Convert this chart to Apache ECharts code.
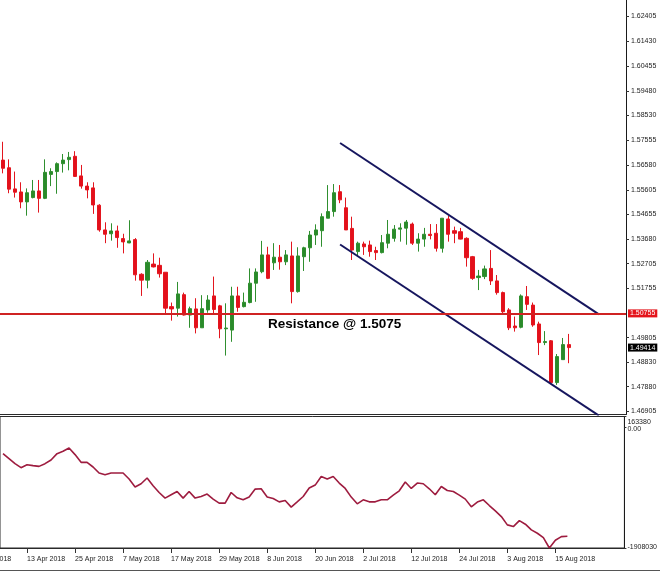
<!DOCTYPE html>
<html><head><meta charset="utf-8">
<script src="https://cdn.jsdelivr.net/npm/echarts@6/dist/echarts.min.js"></script>
<style>html,body{margin:0;padding:0;background:#fff;overflow:hidden}#c{width:660px;height:571px}</style>
</head><body><div id="c"></div>
<script>
// ---- categories (daily bars) ----
const dates = [
 '9 Apr 2018','10 Apr 2018','11 Apr 2018','12 Apr 2018','13 Apr 2018','16 Apr 2018','17 Apr 2018','18 Apr 2018','19 Apr 2018','20 Apr 2018',
 '23 Apr 2018','24 Apr 2018','25 Apr 2018','26 Apr 2018','27 Apr 2018','30 Apr 2018','1 May 2018','2 May 2018','3 May 2018','4 May 2018',
 '7 May 2018','8 May 2018','9 May 2018','10 May 2018','11 May 2018','14 May 2018','15 May 2018','16 May 2018','17 May 2018','18 May 2018',
 '21 May 2018','22 May 2018','23 May 2018','24 May 2018','25 May 2018','28 May 2018','29 May 2018','30 May 2018','31 May 2018','1 Jun 2018',
 '4 Jun 2018','5 Jun 2018','6 Jun 2018','7 Jun 2018','8 Jun 2018','11 Jun 2018','12 Jun 2018','13 Jun 2018','14 Jun 2018','15 Jun 2018',
 '18 Jun 2018','19 Jun 2018','20 Jun 2018','21 Jun 2018','22 Jun 2018','25 Jun 2018','26 Jun 2018','27 Jun 2018','28 Jun 2018','29 Jun 2018',
 '2 Jul 2018','3 Jul 2018','4 Jul 2018','5 Jul 2018','6 Jul 2018','9 Jul 2018','10 Jul 2018','11 Jul 2018','12 Jul 2018','13 Jul 2018',
 '16 Jul 2018','17 Jul 2018','18 Jul 2018','19 Jul 2018','20 Jul 2018','23 Jul 2018','24 Jul 2018','25 Jul 2018','26 Jul 2018','27 Jul 2018',
 '30 Jul 2018','31 Jul 2018','1 Aug 2018','2 Aug 2018','3 Aug 2018','6 Aug 2018','7 Aug 2018','8 Aug 2018','9 Aug 2018','10 Aug 2018',
 '13 Aug 2018','14 Aug 2018','15 Aug 2018','16 Aug 2018','17 Aug 2018'
];
// empty space to the right of the last bar (chart shift)
const futureDates = ['20 Aug 2018','21 Aug 2018','22 Aug 2018','23 Aug 2018','24 Aug 2018','27 Aug 2018','28 Aug 2018','29 Aug 2018','30 Aug 2018'];
const dateLabels = ['13 Apr 2018','25 Apr 2018','7 May 2018','17 May 2018','29 May 2018','8 Jun 2018','20 Jun 2018','2 Jul 2018','12 Jul 2018','24 Jul 2018','3 Aug 2018','15 Aug 2018'];
const offscreenLabel = '3 Apr 2018';

// ---- OHLC ----
const opens = [
 1.5677,1.5647,1.5564,1.5552,1.5513,1.5530,1.5556,1.5527,1.5621,1.5632,
 1.5663,1.5679,1.5692,1.5615,1.5575,1.5568,1.5500,1.5403,1.5388,1.5399,
 1.5369,1.5352,1.5365,1.5229,1.5206,1.5269,1.5264,1.5237,1.5102,1.5096,
 1.5149,1.5069,1.5093,1.5019,1.5089,1.5144,1.5105,1.5015,1.5010,1.5144,
 1.5102,1.5118,1.5194,1.5239,1.5305,1.5274,1.5296,1.5278,1.5301,1.5161,
 1.5298,1.5333,1.5383,1.5400,1.5449,1.5475,1.5553,1.5490,1.5409,1.5318,
 1.5348,1.5344,1.5322,1.5314,1.5351,1.5370,1.5406,1.5410,1.5426,1.5351,
 1.5367,1.5386,1.5390,1.5331,1.5446,1.5400,1.5396,1.5370,1.5298,1.5216,
 1.5220,1.5252,1.5203,1.5157,1.5089,1.5026,1.5021,1.5141,1.5108,1.5034,
 1.4961,1.4968,1.4804,1.4894,1.4953
];
const closes = [
 1.5645,1.5563,1.5551,1.5513,1.5549,1.5556,1.5527,1.5629,1.5632,1.5663,
 1.5677,1.5688,1.5613,1.5575,1.5560,1.5501,1.5403,1.5386,1.5399,1.5373,
 1.5356,1.5360,1.5227,1.5206,1.5276,1.5258,1.5231,1.5096,1.5093,1.5152,
 1.5069,1.5094,1.5019,1.5094,1.5128,1.5091,1.5015,1.5018,1.5144,1.5099,
 1.5119,1.5194,1.5238,1.5305,1.5213,1.5296,1.5278,1.5305,1.5161,1.5301,
 1.5333,1.5383,1.5403,1.5455,1.5475,1.5549,1.5521,1.5403,1.5324,1.5351,
 1.5337,1.5318,1.5314,1.5353,1.5386,1.5406,1.5411,1.5434,1.5351,1.5367,
 1.5386,1.5381,1.5331,1.5449,1.5386,1.5390,1.5367,1.5294,1.5213,1.5222,
 1.5250,1.5203,1.5157,1.5082,1.5019,1.5019,1.5144,1.5111,1.5030,1.4961,
 1.4965,1.4804,1.4906,1.4953,1.49414
];
const highs = [
 1.5749,1.5680,1.5632,1.5590,1.5566,1.5599,1.5599,1.5680,1.5645,1.5668,
 1.5701,1.5709,1.5712,1.5658,1.5590,1.5590,1.5504,1.5433,1.5429,1.5420,
 1.5388,1.5441,1.5371,1.5233,1.5285,1.5311,1.5294,1.5237,1.5118,1.5199,
 1.5157,1.5102,1.5135,1.5147,1.5147,1.5220,1.5109,1.5115,1.5180,1.5180,
 1.5157,1.5252,1.5252,1.5360,1.5337,1.5351,1.5344,1.5324,1.5357,1.5335,
 1.5337,1.5399,1.5425,1.5468,1.5579,1.5583,1.5579,1.5530,1.5455,1.5357,
 1.5357,1.5361,1.5337,1.5383,1.5442,1.5422,1.5429,1.5442,1.5432,1.5390,
 1.5411,1.5426,1.5426,1.5449,1.5458,1.5416,1.5411,1.5374,1.5301,1.5246,
 1.5263,1.5324,1.5226,1.5161,1.5096,1.5063,1.5150,1.5183,1.5118,1.5043,
 1.5006,1.4971,1.4916,1.4979,1.4995
];
const lows = [
 1.5625,1.5547,1.5530,1.5488,1.5459,1.5527,1.5471,1.5524,1.5575,1.5545,
 1.5628,1.5637,1.5611,1.5565,1.5527,1.5466,1.5396,1.5351,1.5361,1.5333,
 1.5311,1.5351,1.5204,1.5144,1.5174,1.5256,1.5216,1.5072,1.5047,1.5063,
 1.5067,1.5019,1.4997,1.5019,1.5078,1.5072,1.4978,1.4910,1.4964,1.5082,
 1.5099,1.5115,1.5121,1.5233,1.5210,1.5246,1.5247,1.5265,1.5115,1.5157,
 1.5242,1.5278,1.5344,1.5337,1.5449,1.5455,1.5508,1.5403,1.5285,1.5298,
 1.5305,1.5298,1.5285,1.5311,1.5331,1.5357,1.5357,1.5345,1.5344,1.5318,
 1.5337,1.5366,1.5318,1.5314,1.5357,1.5351,1.5366,1.5259,1.5207,1.5167,
 1.5210,1.5187,1.5149,1.5072,1.5010,1.5004,1.5017,1.5089,1.5023,1.4912,
 1.4951,1.4801,1.4795,1.4893,1.4880
];

// ---- lower indicator pane ----
const indicator = [
 -422000,-501000,-580000,-643000,-596000,-611000,-622000,-580000,-521000,-422000,
 -385000,-332000,-437000,-559000,-559000,-632000,-727000,-754000,-727000,-727000,
 -727000,-822000,-948000,-896000,-806000,-928000,-1034000,-1122000,-1070000,-1018000,
 -1122000,-1018000,-1122000,-1097000,-1059000,-1138000,-1201000,-1201000,-1034000,-1117000,
 -1149000,-1106000,-980000,-975000,-1106000,-1128000,-1181000,-1160000,-1264000,-1181000,
 -1097000,-964000,-917000,-781000,-822000,-781000,-885000,-970000,-1106000,-1212000,
 -1149000,-1181000,-1181000,-1149000,-1149000,-1075000,-1007000,-869000,-970000,-885000,
 -896000,-975000,-1070000,-939000,-1002000,-1018000,-1075000,-1138000,-1260000,-1185000,
 -1149000,-1239000,-1323000,-1413000,-1544000,-1571000,-1476000,-1533000,-1623000,-1676000,
 -1745000,-1908030,-1786000,-1729000,-1723000
];

// ---- axes ticks & levels ----
const priceTicks = [1.62405,1.61430,1.60455,1.59480,1.58530,1.57555,1.56580,1.55605,1.54655,1.53680,1.52705,1.51755,1.49805,1.48830,1.47880,1.46905];
const priceMin = 1.467875, priceMax = 1.630525;
const indicatorTicks = [163380, 0, -1908030];
const resistance = 1.50755;
const lastPrice = 1.49414;
const resistanceText = 'Resistance @ 1.5075';
// channel lines: [bar index, price]
const channelUpper = [[56, 1.57441], [99, 1.50719]];
const channelLower = [[56, 1.53458], [99, 1.46744]];

const allCats = dates.concat(futureDates);
const ohlc = opens.map((o, i) => [o, closes[i], lows[i], highs[i]]);
const FONT = 'Liberation Sans';
const showLabel = (i, v) => dateLabels.indexOf(v) >= 0;
const tagLabel = (txt, bg) => ({show: true, position: 'end', distance: 2, formatter: txt, color: '#fff', backgroundColor: bg,
                                padding: [1, 2, 0, 2], fontSize: 7, fontFamily: FONT});

const chart = echarts.init(document.getElementById('c'), null, {renderer: 'canvas'});
chart.setOption({
  animation: false,
  backgroundColor: '#fff',
  grid: [
    {left: -2, right: 34, top: 0, height: 414.5, show: false},
    {left: -2, right: 34, top: 416.5, height: 131.5, show: true, borderColor: '#2a2a2a', borderWidth: 1, backgroundColor: 'transparent'}
  ],
  xAxis: [
    {type: 'category', gridIndex: 0, data: allCats, boundaryGap: true,
     axisLine: {show: true, onZero: false, lineStyle: {color: '#2a2a2a', width: 1}},
     axisTick: {show: false}, axisLabel: {show: false}, splitLine: {show: false}},
    {type: 'category', gridIndex: 1, data: allCats, boundaryGap: true,
     axisLine: {show: true, onZero: false, lineStyle: {color: '#2a2a2a', width: 1}},
     axisTick: {show: true, interval: showLabel, alignWithLabel: true, length: 5, lineStyle: {color: '#333'}},
     axisLabel: {show: true, interval: showLabel, align: 'left', margin: 8, fontSize: 7, fontFamily: FONT, color: '#222'},
     splitLine: {show: false}}
  ],
  yAxis: [
    {type: 'value', gridIndex: 0, position: 'right', min: priceMin, max: priceMax,
     axisLine: {show: true, lineStyle: {color: '#1a1a1a', width: 1}},
     axisTick: {show: true, length: 3, customValues: priceTicks, lineStyle: {color: '#333'}},
     axisLabel: {show: true, customValues: priceTicks, formatter: v => v.toFixed(5), margin: 5, fontSize: 7, fontFamily: FONT, color: '#222'},
     splitLine: {show: false}},
    {type: 'value', gridIndex: 1, position: 'right', min: indicatorTicks[2], max: indicatorTicks[0],
     axisLine: {show: true, lineStyle: {color: '#1a1a1a', width: 1}},
     axisTick: {show: true, length: 2, customValues: indicatorTicks, lineStyle: {color: '#333'}},
     axisLabel: {show: true, customValues: indicatorTicks, margin: 3, fontSize: 7, fontFamily: FONT, color: '#222',
       formatter: v => v === indicatorTicks[0] ? '{t|' + v + '}' : (v === 0 ? '{z|0.00}' : '{b|' + v + '}'),
       rich: {t: {padding: [11, 0, 0, 0], fontSize: 7, fontFamily: FONT, color: '#222'},
              z: {padding: [4, 0, 0, 0], fontSize: 7, fontFamily: FONT, color: '#222'},
              b: {padding: [0, 0, 2, 0], fontSize: 7, fontFamily: FONT, color: '#222'}}},
     splitLine: {show: false}}
  ],
  series: [
    {type: 'line', xAxisIndex: 0, yAxisIndex: 0, data: [], symbol: 'none', silent: true,
     markLine: {silent: true, symbol: ['none', 'none'], animation: false, precision: 5,
       data: [
         {yAxis: resistance, lineStyle: {color: '#cf2323', width: 2, type: 'solid'}, label: tagLabel(resistance.toFixed(5), '#e4141b')},
         {yAxis: lastPrice, lineStyle: {color: 'rgba(0,0,0,0)', width: 0}, label: tagLabel(lastPrice.toFixed(5), '#000')}
       ]}},
    {type: 'candlestick', xAxisIndex: 0, yAxisIndex: 0, data: ohlc, barWidth: 3.6, clip: true,
     itemStyle: {color: '#2a8a2a', color0: '#e3101b', borderColor: '#2f8f2f', borderColor0: '#e3161f', borderWidth: 1}},
    {type: 'line', xAxisIndex: 0, yAxisIndex: 0, data: channelUpper, symbol: 'none', clip: true, silent: true,
     lineStyle: {color: '#16165e', width: 2}},
    {type: 'line', xAxisIndex: 0, yAxisIndex: 0, data: channelLower, symbol: 'none', clip: true, silent: true,
     lineStyle: {color: '#16165e', width: 2}},
    {type: 'line', xAxisIndex: 1, yAxisIndex: 1, data: indicator, symbol: 'none', clip: true, silent: true,
     lineStyle: {color: '#9e1c3f', width: 1.6}}
  ],
  graphic: [
    {type: 'text', x: 268, y: 317, silent: true,
     style: {text: resistanceText, font: 'bold 13.5px "Liberation Sans"', fill: '#000', align: 'left', verticalAlign: 'top'}},
    {type: 'text', x: -23, y: 556, silent: true,
     style: {text: offscreenLabel, font: '7px "Liberation Sans"', fill: '#222', align: 'left', verticalAlign: 'top'}},
    {type: 'line', silent: true, shape: {x1: 0, y1: 570.5, x2: 660, y2: 570.5}, style: {stroke: '#555', lineWidth: 1}}
  ]
});
</script>
</body></html>
